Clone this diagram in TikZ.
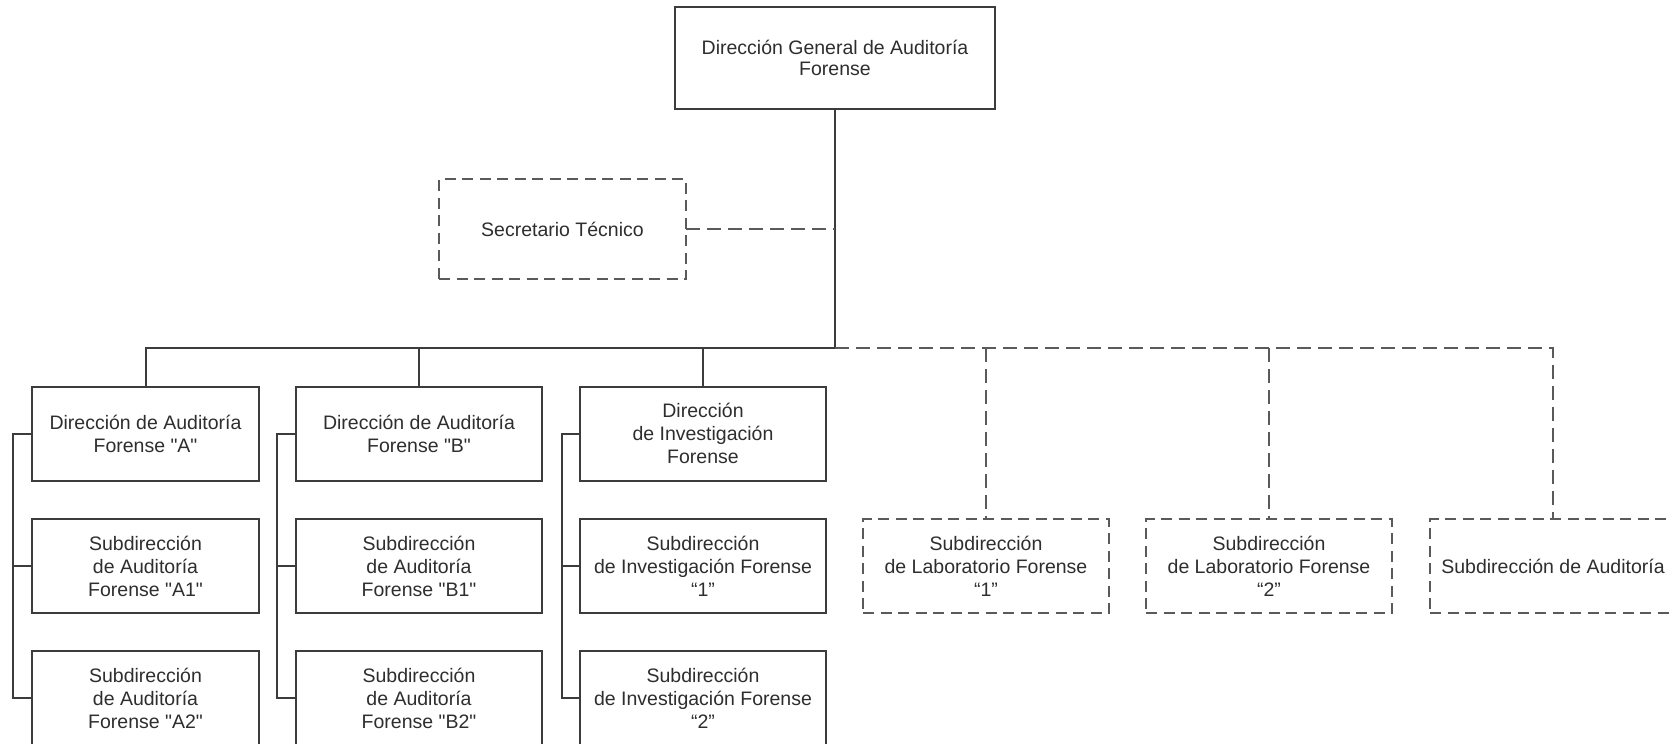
\documentclass[tikz,border=0pt]{standalone}
\usepackage{fontspec}
\setmainfont{Liberation Sans}[Ligatures=TeXOff]
\definecolor{linec}{HTML}{3C3C3C}
\definecolor{dashc}{HTML}{5A5A5A}
\definecolor{txt}{HTML}{2E2E2E}
\begin{document}
\begin{tikzpicture}[x=1pt, y=-1pt,
  unit/.style={align=center, inner sep=0pt, outer sep=0pt, text=txt,
    font=\fontsize{19.5}{23}\selectfont},
  solidbox/.style={unit, draw=linec, line width=2pt},
  dashbox/.style={unit, draw=dashc, line width=2.6pt, dash pattern=on 11pt off 6.5pt},
  narrow/.style={minimum width=227pt, minimum height=94pt},
  wide/.style={minimum width=246pt, minimum height=94pt},
  tie/.style={draw=linec, line width=2pt},
  dtie/.style={draw=dashc, line width=2.6pt, dash pattern=on 14pt off 7pt}]
\clip (0,0) rectangle (1673,744);
\fill[white] (0,0) rectangle (1673,744);

% head office and its technical secretary
\node[solidbox, minimum width=320pt, minimum height=102pt,
      font=\fontsize{19.5}{20.5}\selectfont] (top) at (835,58)
  {Dirección General de Auditoría\\Forense};
\node[dashbox, minimum width=247pt, minimum height=100pt] (sec) at (562.5,229)
  {Secretario Técnico};

% column A
\node[solidbox, narrow] (A)  at (145.5,433.5) {Dirección de Auditoría\\Forense "A"};
\node[solidbox, narrow] (A1) at (145.5,566) {Subdirección\\de Auditoría\\Forense "A1"};
\node[solidbox, narrow] (A2) at (145.5,698) {Subdirección\\de Auditoría\\Forense "A2"};

% column B
\node[solidbox, wide] (B)  at (419,433.5) {Dirección de Auditoría\\Forense "B"};
\node[solidbox, wide] (B1) at (419,566) {Subdirección\\de Auditoría\\Forense "B1"};
\node[solidbox, wide] (B2) at (419,698) {Subdirección\\de Auditoría\\Forense "B2"};

% column C
\node[solidbox, wide] (C)  at (703,433.5) {Dirección\\de Investigación\\Forense};
\node[solidbox, wide] (C1) at (703,566) {Subdirección\\de Investigación Forense\\“1”};
\node[solidbox, wide] (C2) at (703,698) {Subdirección\\de Investigación Forense\\“2”};

% units drawn dashed
\node[dashbox, wide] (L1) at (986,566) {Subdirección\\de Laboratorio Forense\\“1”};
\node[dashbox, wide] (L2) at (1269,566) {Subdirección\\de Laboratorio Forense\\“2”};
\node[dashbox, wide] (SA) at (1553,566) {Subdirección de Auditoría};

% junction point on the main trunk
\coordinate (hub) at (835,348);

% solid trunk and branches
\draw[tie] (top.south) -- (hub);
\draw[tie] (hub) -| (A.north);
\draw[tie] (B.north |- hub) -- (B.north);
\draw[tie] (C.north |- hub) -- (C.north);

% dashed links
\draw[dtie] (sec.east) -- (sec.east -| hub);
\draw[dtie] (hub) -| (SA.north);
\draw[dtie] (L1.north |- hub) -- (L1.north);
\draw[dtie] (L2.north |- hub) -- (L2.north);

% side brackets of each column
\draw[tie] (A.west) -- ++(-19,0) |- (A2.west);
\draw[tie] (A1.west) -- ++(-19,0);
\draw[tie] (B.west) -- ++(-19,0) |- (B2.west);
\draw[tie] (B1.west) -- ++(-19,0);
\draw[tie] (C.west) -- ++(-18,0) |- (C2.west);
\draw[tie] (C1.west) -- ++(-18,0);
\end{tikzpicture}
\end{document}
